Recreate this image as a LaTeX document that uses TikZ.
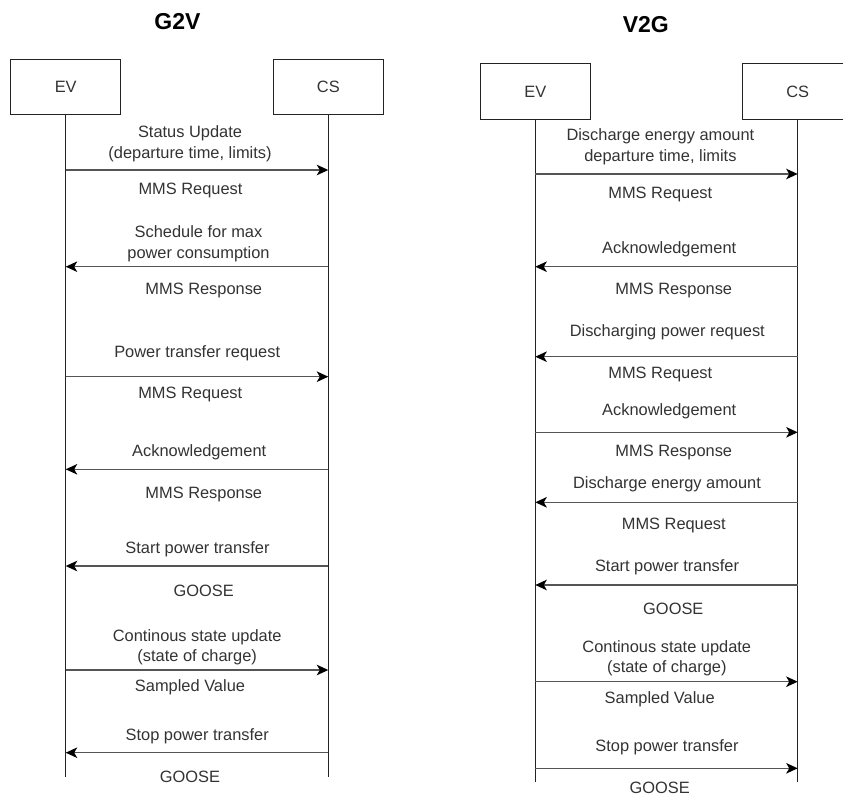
\documentclass[tikz,border=0pt]{standalone}
\usepackage{fontspec}
\setmainfont{Liberation Sans}
\usetikzlibrary{arrows.meta}
\definecolor{ink}{RGB}{51,51,51}
\definecolor{wire}{RGB}{35,35,35}
\definecolor{msgline}{RGB}{85,85,85}

\begin{document}
\begin{tikzpicture}[x=1pt,y=-1pt,
  actor/.style={draw=wire, line width=1pt, minimum width=110pt, minimum height=55.5pt,
    inner sep=0pt, text=ink, font=\fontsize{16.4}{20}\selectfont},
  lifeline/.style={draw=wire, line width=1.1pt},
  msg/.style={draw=msgline, line width=1.5pt,
    -{Stealth[length=11.5pt,width=10.5pt,inset=3pt,color=black]}},
  lbl/.style={text=ink, inner sep=0pt, align=center, font=\fontsize{16.4}{20.5}\selectfont},
  heading/.style={text=black, inner sep=0pt, font=\fontsize{23}{26}\selectfont\bfseries}]

\useasboundingbox (0,0) rectangle (843,796);
\fill[white] (0,0) rectangle (843,796);

% ---------------- G2V ----------------
\node[heading] (tA) at (177.5,21.7) {G2V};
\node[actor] (evA) at (65.7,87.2) {EV};
\node[actor] (csA) at (328.3,87.2) {CS};
\coordinate (evAend) at (65.7,776.7);
\coordinate (csAend) at (328.3,776.7);
\draw[lifeline] (evA.south) -- (evAend);
\draw[lifeline] (csA.south) -- (csAend);

\foreach \i/\y in {1/170,2/266.7,3/376.7,4/469.3,5/566,6/670,7/752.7}{
  \coordinate (evA\i) at (evA.center |- 0,\y);
  \coordinate (csA\i) at (csA.center |- 0,\y);
}
\draw[msg] (evA1) -- (csA1);
\draw[msg] (csA2) -- (evA2);
\draw[msg] (evA3) -- (csA3);
\draw[msg] (csA4) -- (evA4);
\draw[msg] (csA5) -- (evA5);
\draw[msg] (evA6) -- (csA6);
\draw[msg] (csA7) -- (evA7);

\node[lbl] (a1t) at (190,143.7) {Status Update\\(departure time, limits)};
\node[lbl] (a1b) at (190.5,190.7) {MMS Request};
\node[lbl] (a2t) at (198.5,243.7) {Schedule for max\\power consumption};
\node[lbl] (a2b) at (203.8,290.7) {MMS Response};
\node[lbl] (a3t) at (197.2,353.3) {Power transfer request};
\node[lbl] (a3b) at (190.2,394.3) {MMS Request};
\node[lbl] (a4t) at (199.2,452.7) {Acknowledgement};
\node[lbl] (a4b) at (203.8,494) {MMS Response};
\node[lbl] (a5t) at (197.5,549.3) {Start power transfer};
\node[lbl] (a5b) at (203.7,590.7) {GOOSE};
\node[lbl] (a6t) at (197.2,647) {Continous state update\\(state of charge)};
\node[lbl] (a6b) at (190,687.3) {Sampled Value};
\node[lbl] (a7t) at (197.2,736) {Stop power transfer};
\node[lbl] (a7b) at (190,777.3) {GOOSE};

% ---------------- V2G ----------------
\node[heading] (tB) at (645.8,25) {V2G};
\node[actor] (evB) at (535.3,91.7) {EV};
\node[actor] (csB) at (797.7,91.7) {CS};
\coordinate (evBend) at (535.3,781.7);
\coordinate (csBend) at (797.7,781.7);
\draw[lifeline] (evB.south) -- (evBend);
\draw[lifeline] (csB.south) -- (csBend);

\foreach \i/\y in {1/174,2/266.7,3/356.7,4/432.3,5/502.3,6/585,7/681.7,8/768.3}{
  \coordinate (evB\i) at (evB.center |- 0,\y);
  \coordinate (csB\i) at (csB.center |- 0,\y);
}
\draw[msg] (evB1) -- (csB1);
\draw[msg] (csB2) -- (evB2);
\draw[msg] (csB3) -- (evB3);
\draw[msg] (evB4) -- (csB4);
\draw[msg] (csB5) -- (evB5);
\draw[msg] (csB6) -- (evB6);
\draw[msg] (evB7) -- (csB7);
\draw[msg] (evB8) -- (csB8);

\node[lbl] (b1t) at (660.4,146.7) {Discharge energy amount\\departure time, limits};
\node[lbl] (b1b) at (660.3,194) {MMS Request};
\node[lbl] (b2t) at (669.2,249.3) {Acknowledgement};
\node[lbl] (b2b) at (673.8,290.7) {MMS Response};
\node[lbl] (b3t) at (667.3,332.3) {Discharging power request};
\node[lbl] (b3b) at (660.3,374) {MMS Request};
\node[lbl] (b4t) at (669.2,411.7) {Acknowledgement};
\node[lbl] (b4b) at (673.8,452.7) {MMS Response};
\node[lbl] (b5t) at (667,484.3) {Discharge energy amount};
\node[lbl] (b5b) at (673.8,525.5) {MMS Request};
\node[lbl] (b6t) at (667,567.3) {Start power transfer};
\node[lbl] (b6b) at (673.3,609.3) {GOOSE};
\node[lbl] (b7t) at (666.8,658) {Continous state update\\(state of charge)};
\node[lbl] (b7b) at (659.7,699) {Sampled Value};
\node[lbl] (b8t) at (667,747.3) {Stop power transfer};
\node[lbl] (b8b) at (659.7,788.3) {GOOSE};
\end{tikzpicture}
\end{document}
